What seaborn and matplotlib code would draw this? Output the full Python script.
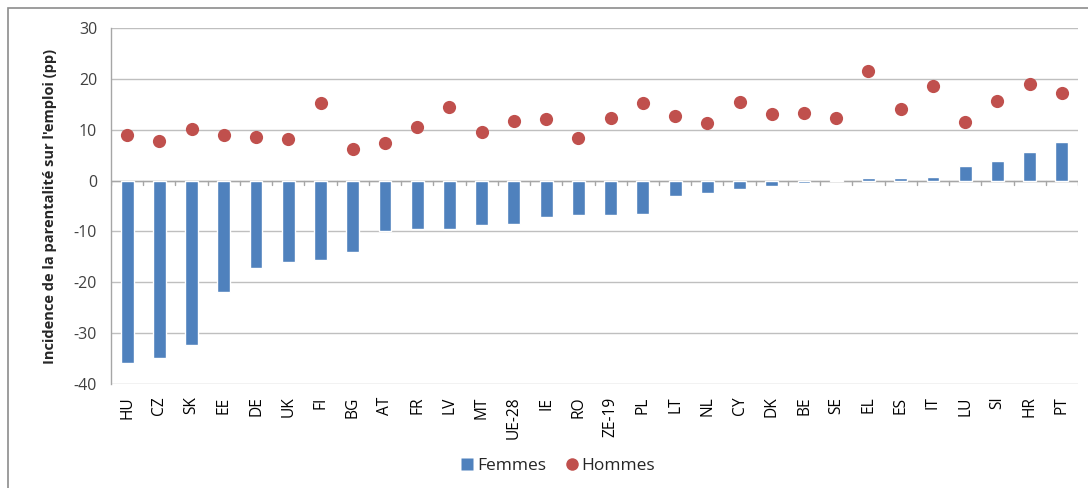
import matplotlib
matplotlib.use("Agg")
import matplotlib.pyplot as plt
import matplotlib.patches as mpatches
from matplotlib.lines import Line2D
import seaborn as sns
import pandas as pd

categories = ["HU", "CZ", "SK", "EE", "DE", "UK", "FI", "BG", "AT", "FR", "LV", "MT",
              "UE-28", "IE", "RO", "ZE-19", "PL", "LT", "NL", "CY", "DK", "BE", "SE",
              "EL", "ES", "IT", "LU", "SI", "HR", "PT"]
femmes = [-35.8, -34.8, -32.4, -22.0, -17.2, -16.0, -15.7, -14.0, -10.0, -9.6, -9.5, -8.8,
          -8.6, -7.1, -6.8, -6.7, -6.5, -3.0, -2.4, -1.7, -1.0, -0.4, 0.2,
          0.5, 0.5, 0.7, 2.8, 3.9, 5.6, 7.6]
hommes = [9.0, 7.7, 10.2, 8.9, 8.6, 8.1, 15.3, 6.3, 7.4, 10.5, 14.5, 9.6,
          11.8, 12.2, 8.4, 12.4, 15.2, 12.7, 11.4, 15.5, 13.0, 13.2, 12.4,
          21.6, 14.0, 18.5, 11.5, 15.7, 19.0, 17.2]
yticks = [30, 20, 10, 0, -10, -20, -30, -40]

df = pd.DataFrame({"pays": categories, "Femmes": femmes, "Hommes": hommes})

sns.set_style("white")
plt.rcParams["font.family"] = ["Open Sans", "DejaVu Sans"]

blue = "#4F81BD"
red = "#C0504D"
grid = "#A6A6A6"

fig = plt.figure(figsize=(10.88, 4.88), dpi=100)
ax = fig.add_axes([111 / 1088, 1 - 384 / 488, (1078 - 111) / 1088, (384 - 28) / 488])

sns.barplot(data=df, x="pays", y="Femmes", color=blue, width=0.4, ax=ax,
            saturation=1, zorder=3)
sns.stripplot(data=df, x="pays", y="Hommes", color=red, jitter=False, size=9.5,
              marker="o", linewidth=0, ax=ax, zorder=4)

n = len(df)
ax.set_xlim(-0.5, n - 0.5)
ax.set_ylim(-40, 30)
ax.set_yticks(yticks)
ax.set_yticklabels([str(v) for v in yticks], fontsize=11.5, color="#404040")
ax.yaxis.grid(True, color="#BFBFBF", linewidth=1.0, zorder=0)
ax.set_axisbelow(True)

for s in ["top", "right", "bottom"]:
    ax.spines[s].set_visible(False)
ax.spines["left"].set_color(grid)
ax.spines["left"].set_linewidth(1.0)
ax.tick_params(axis="y", direction="out", length=5, color=grid, pad=5)

# category axis at zero
ax.axhline(0, color=grid, linewidth=1.0, zorder=2)
for k in range(n + 1):
    ax.plot([k - 0.5, k - 0.5], [0, -0.9], color=grid, linewidth=1.0, zorder=2)

ax.set_xticks(range(n))
ax.set_xticklabels(df["pays"], rotation=90, fontsize=11.2, color="#000000")
ax.tick_params(axis="x", length=0, pad=9)
ax.set_xlabel("")
ax.set_ylabel("Incidence de la parentalité sur l'emploi (pp)", fontsize=10.5,
              fontweight="bold", labelpad=12)

handles = [Line2D([0], [0], marker="s", color="none", markerfacecolor=blue,
                  markeredgecolor="none", markersize=9, label="Femmes"),
           Line2D([0], [0], marker="o", color="none", markerfacecolor=red,
                  markeredgecolor="none", markersize=9, label="Hommes")]
fig.legend(handles=handles, loc="center", bbox_to_anchor=(557 / 1088, 1 - 466 / 488),
           ncol=2, frameon=False, fontsize=12.5, handletextpad=0.05,
           columnspacing=1.0, handlelength=1.0)

frame = mpatches.Rectangle((8 / 1088, -0.1), 1.2, 1.1 - 8 / 488,
                           transform=fig.transFigure, fill=False,
                           edgecolor="#8C8C8C", linewidth=1.2)
fig.patches.append(frame)

fig.savefig("out.png", dpi=100)
